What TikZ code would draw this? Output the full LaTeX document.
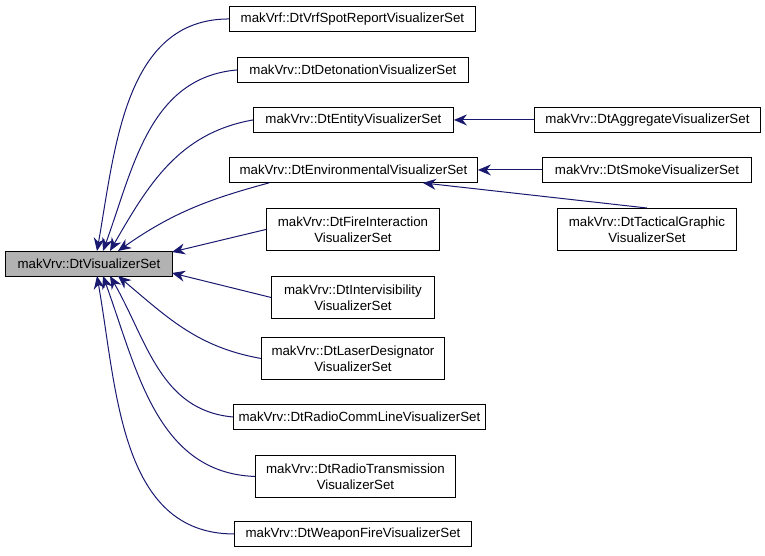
\documentclass[tikz,border=0pt]{standalone}
\usepackage{fontspec}
\setmainfont{Liberation Sans}
\usetikzlibrary{arrows.meta}
\definecolor{edge}{RGB}{25,25,112}
\begin{document}
\begin{tikzpicture}[x=1pt,y=-1pt,
  box/.style={draw=black,line width=0.9pt,fill=white,inner sep=0pt,align=center,font=\fontsize{13.3}{16}\selectfont,anchor=north west},
  inh/.style={edge,-{Stealth[length=13pt,width=11pt]},line width=1pt}]
\useasboundingbox (0,0) rectangle (765,555);
\node[box,fill=gray!60,minimum width=167,minimum height=25] (r) at (5,251) {makVrv::DtVisualizerSet};
\node[box,minimum width=246,minimum height=25] (n1) at (229,6) {makVrf::DtVrfSpotReportVisualizerSet};
\node[box,minimum width=231,minimum height=25] (n2) at (237,57) {makVrv::DtDetonationVisualizerSet};
\node[box,minimum width=200,minimum height=25] (n3) at (253,107) {makVrv::DtEntityVisualizerSet};
\node[box,minimum width=248,minimum height=25] (n4) at (229,157) {makVrv::DtEnvironmentalVisualizerSet};
\node[box,minimum width=173,minimum height=42] (n5) at (266,208) {makVrv::DtFireInteraction\\VisualizerSet};
\node[box,minimum width=163,minimum height=42] (n6) at (271,276) {makVrv::DtIntervisibility\\VisualizerSet};
\node[box,minimum width=183,minimum height=42] (n7) at (261,337) {makVrv::DtLaserDesignator\\VisualizerSet};
\node[box,minimum width=252,minimum height=25] (n8) at (233,404) {makVrv::DtRadioCommLineVisualizerSet};
\node[box,minimum width=200,minimum height=42] (n9) at (255,455) {makVrv::DtRadioTransmission\\VisualizerSet};
\node[box,minimum width=237,minimum height=25] (n10) at (234,521) {makVrv::DtWeaponFireVisualizerSet};
\node[box,minimum width=226,minimum height=25] (a1) at (534,107) {makVrv::DtAggregateVisualizerSet};
\node[box,minimum width=209,minimum height=25] (a2) at (542,157) {makVrv::DtSmokeVisualizerSet};
\node[box,minimum width=179,minimum height=42] (a3) at (557,208) {makVrv::DtTacticalGraphic\\VisualizerSet};
\coordinate (t1) at (97,251);\coordinate (t2) at (103,251);\coordinate (t3) at (110,251);\coordinate (t4) at (118,251);
\coordinate (b1) at (97,276);\coordinate (b2) at (103,276);\coordinate (b3) at (110,276);\coordinate (b4) at (118,276);
\draw[inh] (n1.west) to[out=180,in=80] (t1);
\draw[inh] (n2.west) to[out=185,in=70] (t2);
\draw[inh] (n3.west) to[out=190,in=60] (t3);
\draw[inh] ([xshift=40]n4.south west) to[out=195,in=35] (t4);
\draw[inh] (n5.west) -- (172,252);
\draw[inh] (n6.west) -- (172,273);
\draw[inh] (n7.west) to[out=170,in=-40] (b4);
\draw[inh] (n8.west) to[out=175,in=-60] (b3);
\draw[inh] (n9.west) to[out=178,in=-70] (b2);
\draw[inh] (n10.west) to[out=180,in=-80] (b1);
\draw[inh] (a1.west) -- (n3.east);
\draw[inh] (a2.west) -- (n4.east);
\draw[inh] (a3.north) -- ([xshift=-55]n4.south east);
\end{tikzpicture}
\end{document}
